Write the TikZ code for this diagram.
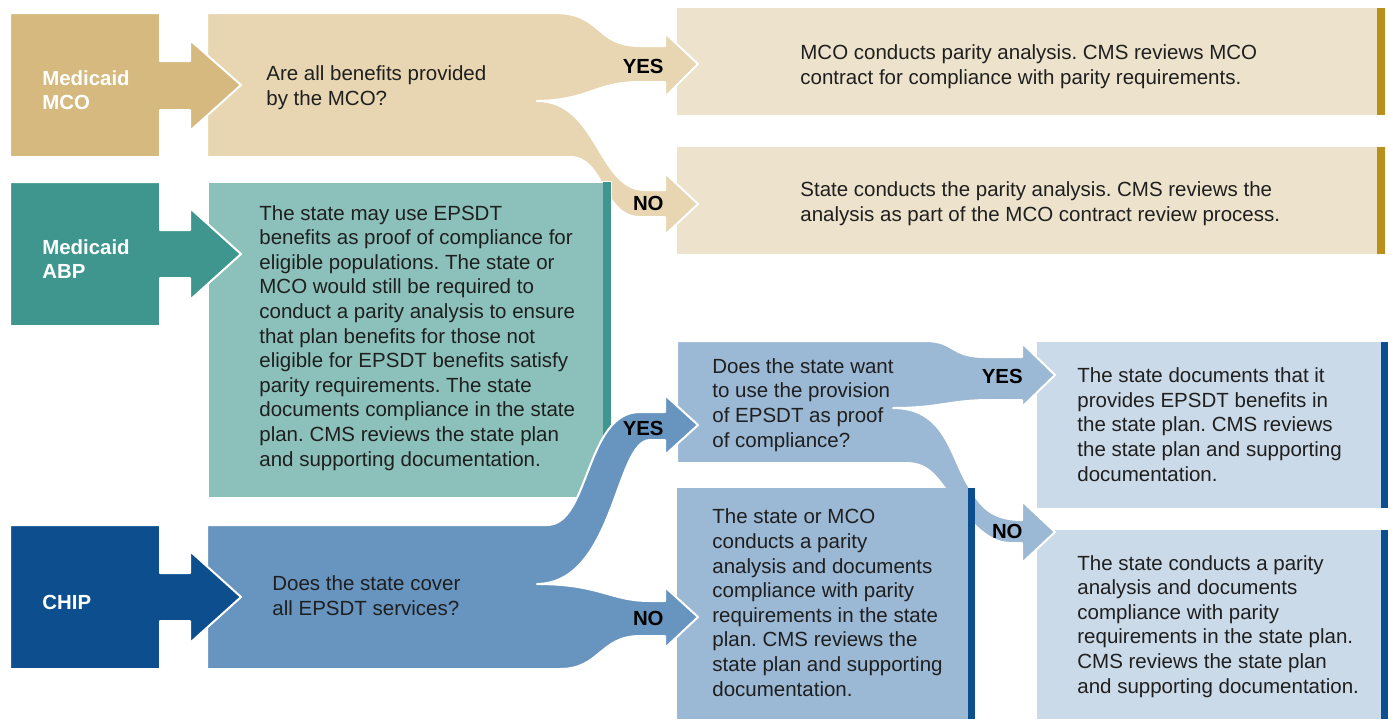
\documentclass[tikz,border=0pt]{standalone}
\usepackage{fontspec}
\setmainfont{Liberation Sans}
\usepackage{tikz}
\frenchspacing

\definecolor{mcoDark}{HTML}{D5B97E}
\definecolor{mcoBand}{HTML}{E7D6B1}
\definecolor{mcoLight}{HTML}{EDE3CC}
\definecolor{mcoBar}{HTML}{BA8F1C}
\definecolor{abpDark}{HTML}{3E968E}
\definecolor{abpLight}{HTML}{8CC1BB}
\definecolor{chipDark}{HTML}{0C4E8E}
\definecolor{chipBand}{HTML}{6795C0}
\definecolor{chipMid}{HTML}{9BB8D5}
\definecolor{chipLight}{HTML}{CBDAE8}

\begin{document}
\begin{tikzpicture}[x=0.5pt, y=-0.5pt,
    txt/.style={anchor=base west, align=left, inner sep=0pt, text=black!88,
        font=\fontsize{10.25}{12.3}\selectfont},
    prog/.style={anchor=base west, align=left, inner sep=0pt, text=white,
        font=\fontsize{10.2}{12}\selectfont\bfseries},
    answer/.style={anchor=base east, inner sep=0pt, text=black,
        font=\fontsize{10.2}{12}\selectfont\bfseries},
    band/.style={draw=white, line width=1pt, line join=round}]
    \useasboundingbox (0,0) rectangle (1388,719);

        % Medicaid MCO row
        \fill[mcoLight] (677,8) rectangle (1385,115);
        \fill[mcoBar] (1377,8) rectangle (1385,115);
        \fill[mcoLight] (677,147) rectangle (1385,254);
        \fill[mcoBar] (1377,147) rectangle (1385,254);
        \filldraw[band, fill=mcoBand] (207,13) -- (555,13)
            .. controls (602,13) and (595,46) .. (640,46) -- (665,46)
            -- (665,33) -- (698,64) -- (665,97) -- (665,82) -- (640,82)
            .. controls (595,82) and (590,100) .. (537,101)
            .. controls (598,101) and (598,190) .. (645,190) -- (665,190)
            -- (665,173) -- (698,204) -- (665,235) -- (665,217) -- (640,217)
            .. controls (602,217) and (605,157) .. (570,157) -- (207,157) -- cycle;
        \filldraw[band, fill=mcoDark] (10,13) -- (160,13) -- (160,61) -- (190,61)
            -- (190,40) -- (241,85) -- (190,131) -- (190,110) -- (160,110)
            -- (160,157) -- (10,157) -- cycle;

        % CHIP result boxes
        \fill[chipLight] (1037,342) rectangle (1388,508);
        \fill[chipDark] (1381,342) rectangle (1388,508);
        \fill[chipLight] (1037,530) rectangle (1388,719);
        \fill[chipDark] (1381,530) rectangle (1388,719);
        \filldraw[band, fill=chipMid] (677,341) -- (925,341)
            .. controls (955,341) and (950,357) .. (985,357) -- (1022,357)
            -- (1022,343) -- (1055,375) -- (1022,407) -- (1022,400) -- (990,400)
            .. controls (950,400) and (940,408) .. (893,408)
            .. controls (945,408) and (950,455) .. (968,485)
            .. controls (980,505) and (990,520) .. (1022,520)
            -- (1022,501) -- (1055,532) -- (1022,563) -- (1022,543) -- (1010,543)
            .. controls (985,543) and (965,515) .. (950,495)
            .. controls (935,475) and (928,463) .. (905,463) -- (677,463) -- cycle;
        \fill[chipMid] (677,488) rectangle (975,719);
        \fill[chipDark] (968,488) rectangle (975,719);

        % Medicaid ABP row
        \filldraw[band, fill=abpLight] (208,182) rectangle (611,498);
        \fill[abpDark] (603,182) rectangle (611,498);
        \filldraw[band, fill=abpDark] (10,182) -- (160,182) -- (160,230) -- (190,230)
            -- (190,208) -- (241,254) -- (190,300) -- (190,278) -- (160,278)
            -- (160,326) -- (10,326) -- cycle;

        % CHIP row
        \filldraw[band, fill=chipBand] (207,525) -- (547,525)
            .. controls (590,525) and (585,412) .. (640,412) -- (665,412)
            -- (665,395) -- (698,425) -- (665,455) -- (665,440) -- (650,440)
            .. controls (615,440) and (615,583) .. (537,584)
            .. controls (600,584) and (610,601) .. (650,601) -- (665,601)
            -- (665,587) -- (698,617) -- (665,648) -- (665,636) -- (640,636)
            .. controls (600,636) and (600,669) .. (560,669) -- (207,669) -- cycle;
        \filldraw[band, fill=chipDark] (10,525) -- (160,525) -- (160,573) -- (190,573)
            -- (190,551) -- (241,597) -- (190,643) -- (190,621) -- (160,621)
            -- (160,669) -- (10,669) -- cycle;

        % Labels (placed at the baseline of the last line)
        \node[prog] (mco) at (42,109) {Medicaid\\MCO};
        \node[prog] (abp) at (42,278) {Medicaid\\ABP};
        \node[prog] (chip) at (42,609) {CHIP};

        \node[txt] (askMco) at (266,105) {Are all benefits provided\\by the MCO?};
        \node[answer] (mcoYes) at (664,73) {YES};
        \node[answer] (mcoNo) at (664,210) {NO};
        \node[txt] (mcoDoes) at (800,84) {MCO conducts parity analysis. CMS reviews MCO\\contract for compliance with parity requirements.};
        \node[txt] (stateDoes) at (800,221) {State conducts the parity analysis. CMS reviews the\\analysis as part of the MCO contract review process.};

        \node[txt] (abpText) at (259,466) {The state may use EPSDT\\benefits as proof of compliance for\\eligible populations. The state or\\MCO would still be required to\\conduct a parity analysis to ensure\\that plan benefits for those not\\eligible for EPSDT benefits satisfy\\parity requirements. The state\\documents compliance in the state\\plan. CMS reviews the state plan\\and supporting documentation.};

        \node[txt] (askChip) at (272,615) {Does the state cover\\all EPSDT services?};
        \node[answer] (chipYes) at (664,435) {YES};
        \node[answer] (chipNo) at (664,625) {NO};
        \node[txt] (askProof) at (712,447) {Does the state want\\to use the provision\\of EPSDT as proof\\of compliance?};
        \node[txt] (orMco) at (712,696) {The state or MCO\\conducts a parity\\analysis and documents\\compliance with parity\\requirements in the state\\plan. CMS reviews the\\state plan and supporting\\documentation.};
        \node[answer] (proofYes) at (1023,383) {YES};
        \node[answer] (proofNo) at (1023,538) {NO};
        \node[txt] (useProof) at (1077,481) {The state documents that it\\provides EPSDT benefits in\\the state plan. CMS reviews\\the state plan and supporting\\documentation.};
        \node[txt] (noProof) at (1077,693) {The state conducts a parity\\analysis and documents\\compliance with parity\\requirements in the state plan.\\CMS reviews the state plan\\and supporting documentation.};

\end{tikzpicture}
\end{document}
